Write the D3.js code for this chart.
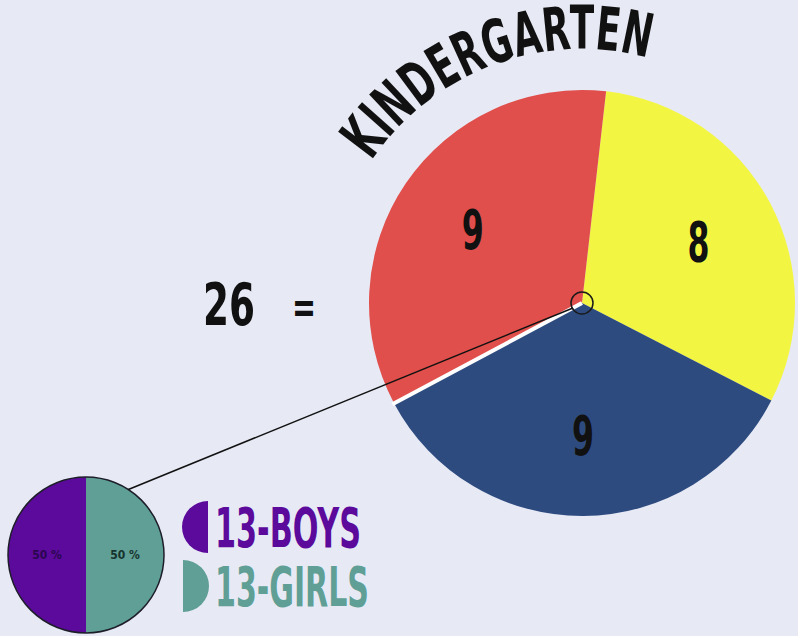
<!DOCTYPE html>
<html>
<head>
<meta charset="utf-8">
<script src="https://cdnjs.cloudflare.com/ajax/libs/d3/7.8.5/d3.min.js"></script>
<style>
  html, body { margin: 0; padding: 0; background: #e7eaf5; }
  svg { display: block; }
  text { font-family: "Liberation Sans Narrow", "DejaVu Sans Condensed", sans-serif; font-weight: bold; }
</style>
</head>
<body>
<div id="chart"></div>
<script>
// data
var title = "KINDERGARTEN";
var total = 26;
var sliceValues = [8, 9, 9];
var sliceColors = ["#f3f543", "#2e4b80", "#e04f4b"];
var genderLabels = ["13-GIRLS", "13-BOYS"];
var genderValues = [13, 13];
var genderPct = ["50 %", "50 %"];
var genderColors = ["#5f9f96", "#5c0a9b"];

var width = 798, height = 636;

var svg = d3.select("#chart").append("svg")
    .attr("width", width)
    .attr("height", height);

svg.append("rect").attr("width", width).attr("height", height).attr("fill", "#e7eaf5");

var cx = 582, cy = 303, radius = 213;
var deg = Math.PI / 180;

// main pie
var pie = d3.pie().sort(null).startAngle(6.5 * deg).endAngle(366.5 * deg);
var arc = d3.arc().innerRadius(0).outerRadius(radius);
var arcs = pie(sliceValues);

var main = svg.append("g").attr("transform", "translate(" + cx + "," + cy + ")");

main.selectAll("path.slice")
    .data(arcs)
    .enter()
    .append("path")
    .attr("class", "slice")
    .attr("d", arc)
    .attr("fill", (d, i) => sliceColors[i]);

// white gap between blue and red slices
var gapAngle = arcs[1].endAngle;
main.append("line")
    .attr("x1", 0)
    .attr("y1", 0)
    .attr("x2", (radius + 2) * Math.sin(gapAngle))
    .attr("y2", -(radius + 2) * Math.cos(gapAngle))
    .attr("stroke", "#ffffff")
    .attr("stroke-width", 4);

var labelArc = d3.arc().innerRadius(radius * 0.62).outerRadius(radius * 0.62);
main.selectAll(".slice-label")
    .data(arcs)
    .enter()
    .append("text")
    .attr("class", "slice-label")
    .attr("x", d => labelArc.centroid(d)[0])
    .attr("y", d => labelArc.centroid(d)[1])
    .attr("dy", "0.36em")
    .attr("text-anchor", "middle")
    .attr("font-size", 56)
    .attr("fill", "#111")
    .attr("textLength", 22)
    .attr("lengthAdjust", "spacingAndGlyphs")
    .text(d => d.data);

// marker circle at centre
main.append("circle")
    .attr("r", 11)
    .attr("fill", "none")
    .attr("stroke", "#1a1a1a")
    .attr("stroke-width", 1.5);

// curved title
var titleR = 254;
var a0 = -56 * deg, a1 = 19 * deg;
var titlePath = d3.path();
titlePath.arc(0, 0, titleR, a0 - Math.PI / 2, a1 - Math.PI / 2);
main.append("path")
    .attr("id", "title-arc")
    .attr("d", titlePath.toString())
    .attr("fill", "none");

main.append("text")
    .attr("font-size", 60)
    .attr("fill", "#111")
    .append("textPath")
    .attr("href", "#title-arc")
    .attr("textLength", 315)
    .attr("lengthAdjust", "spacingAndGlyphs")
    .text(title);

// "26 ="
svg.append("text")
    .attr("x", 203)
    .attr("y", 325)
    .attr("font-size", 58)
    .attr("fill", "#111")
    .attr("textLength", 52)
    .attr("lengthAdjust", "spacingAndGlyphs")
    .text(total);

svg.append("text")
    .attr("x", 292)
    .attr("y", 322)
    .attr("font-size", 44)
    .attr("fill", "#111")
    .attr("textLength", 24)
    .attr("lengthAdjust", "spacingAndGlyphs")
    .text("=");

// small gender pie
var sx = 86, sy = 555, sr = 78;
var smallPie = d3.pie().sort(null);
var smallArc = d3.arc().innerRadius(0).outerRadius(sr);
var small = svg.append("g").attr("transform", "translate(" + sx + "," + sy + ")");

// connector line
var angLine = Math.atan2(487 - sy, 130 - sx);
svg.append("line")
    .attr("x1", cx - 9)
    .attr("y1", cy + 5)
    .attr("x2", sx + sr * Math.cos(angLine))
    .attr("y2", sy + sr * Math.sin(angLine))
    .attr("stroke", "#111")
    .attr("stroke-width", 1.5);

small.selectAll("path")
    .data(smallPie(genderValues))
    .enter()
    .append("path")
    .attr("d", smallArc)
    .attr("fill", (d, i) => genderColors[i]);

small.append("circle")
    .attr("r", sr)
    .attr("fill", "none")
    .attr("stroke", "#1e1e2a")
    .attr("stroke-width", 1.5);

small.selectAll(".pct")
    .data(smallPie(genderValues))
    .enter()
    .append("text")
    .attr("class", "pct")
    .attr("x", (d, i) => i == 0 ? 39 : -39)
    .attr("y", 0)
    .attr("dy", "0.35em")
    .attr("text-anchor", "middle")
    .attr("font-size", 12)
    .attr("fill", (d, i) => i == 0 ? "#17332d" : "#2b0650")
    .text((d, i) => genderPct[i]);

// legend
var legendY = [586, 527];
var legend = svg.selectAll(".legend")
    .data(genderLabels)
    .enter()
    .append("g")
    .attr("class", "legend");

var halfArc = d3.arc().innerRadius(0).outerRadius(26);
legend.append("path")
    .attr("transform", (d, i) => "translate(" + (i == 0 ? 183 : 208) + "," + legendY[i] + ")")
    .attr("d", (d, i) => i == 0
        ? halfArc({startAngle: 0, endAngle: Math.PI})
        : halfArc({startAngle: Math.PI, endAngle: 2 * Math.PI}))
    .attr("fill", (d, i) => genderColors[i]);

legend.append("text")
    .attr("x", 215)
    .attr("y", (d, i) => legendY[i] + 20)
    .attr("font-size", 56)
    .attr("fill", (d, i) => genderColors[i])
    .attr("textLength", (d, i) => i == 0 ? 154 : 146)
    .attr("lengthAdjust", "spacingAndGlyphs")
    .text(d => d);
</script>
</body>
</html>
